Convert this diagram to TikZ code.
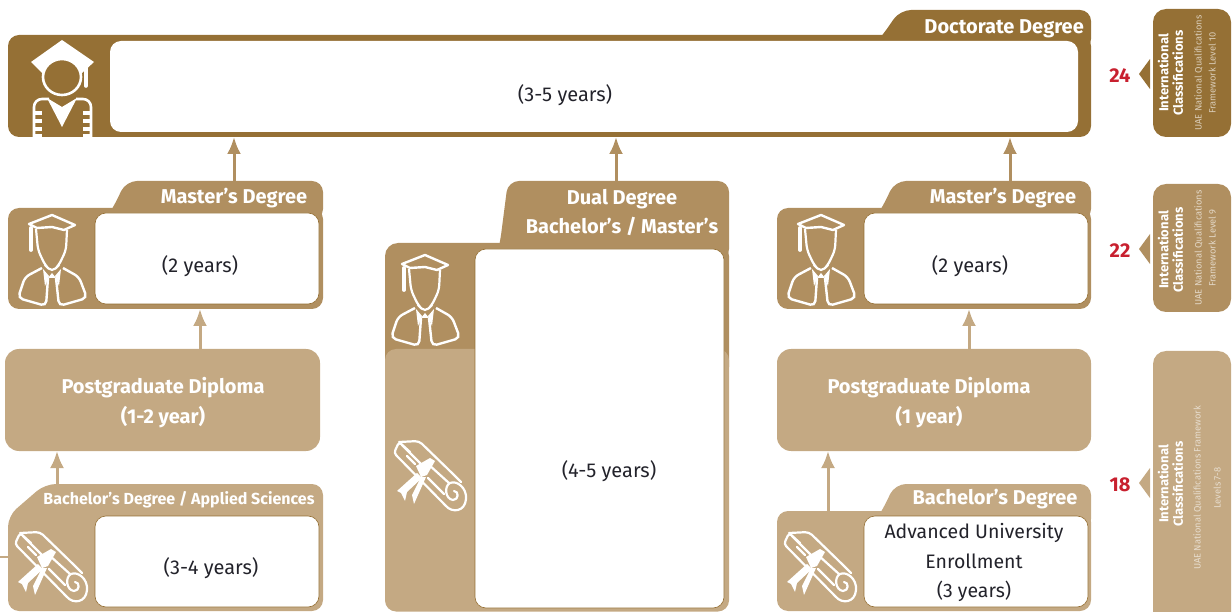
\documentclass[tikz,border=0pt]{standalone}
\usepackage{xcolor}
\usepackage{fontspec}
\setmainfont{Fira Sans}
\usetikzlibrary{arrows.meta}

\definecolor{phdbrown}{HTML}{957035}
\definecolor{masterbrown}{HTML}{B08F60}
\definecolor{bachelortan}{HTML}{C4A983}
\definecolor{creditred}{HTML}{C8202F}
\definecolor{bodytext}{HTML}{23232B}

\newcommand{\fsize}[2]{\fontsize{#1}{#2}\selectfont}

% icons, given in pixels from their own top left corner
\newcommand{\doctoricon}[1]{%
    \begin{scope}[shift={(#1)}]
        \fill [white] (37,4) -- (69,26) -- (56,38) -- (37,24) -- (18,38) -- (6,26) -- cycle;
        \draw [white,line width=2.6pt,fill=phdbrown] (37,41) ellipse [x radius=19,y radius=18];
        \draw [white,line width=3.6pt,line cap=round] (61,30) -- (61,50);
        \draw [white,line width=2.6pt,rounded corners=8pt] (9,101) -- (9,63) -- (24,63);
        \draw [white,line width=2.6pt,rounded corners=8pt] (51,63) -- (66,63) -- (66,101);
        \fill [white] (22,62) -- (37,91) -- (52,62) -- (37,71) -- cycle;
        \foreach \stripe in {77,85,93,99.4} {
            \fill [white] (9,\stripe-1.6) rectangle (17,\stripe+1.6);
            \fill [white] (58,\stripe-1.6) rectangle (66,\stripe+1.6);
        }
    \end{scope}}
\newcommand{\mastericon}[1]{%
    \begin{scope}[shift={(#1)}]
        \draw [white,line width=2.4pt,line join=round] (17,14) -- (40,5) -- (63,15) -- (52,20) -- (40,17) -- (25,18) -- cycle;
        \draw [white,line width=3.8pt,line cap=round] (19,18) -- (19,40);
        \draw [white,line width=2.2pt,rounded corners=5pt] (24,19) -- (26,40) -- (33,55) -- (40,62) -- (47,55) -- (54,40) -- (55,20);
        \draw [white,line width=2.4pt,rounded corners=5pt] (30,58) -- (13,67) -- (6,88) -- (34,96) -- (36,68);
        \draw [white,line width=2.4pt,rounded corners=5pt] (51,58) -- (67,67) -- (75,88) -- (47,96) -- (44,68);
        \fill [white] (31,59) -- (37,66) -- (33,76) -- cycle;
        \fill [white] (49,59) -- (43,66) -- (47,76) -- cycle;
        \fill [white] (40,63) -- (44,68) -- (36,68) -- cycle;
    \end{scope}}
\newcommand{\scrollicon}[1]{%
    \begin{scope}[shift={(#1)}]
        \begin{scope}[white,line width=2.2pt,line join=round,line cap=round]
            \draw [rounded corners=3pt] (21,21) -- (10,11) -- (5,22) -- (57,75);
            \draw [rounded corners=4pt] (10,11) -- (30,10) -- (63,42) -- (72,51);
            \draw (57,75) .. controls (63,82) and (76,81) .. (77,68)
                .. controls (78,57) and (68,49) .. (61,52)
                .. controls (55,55) and (56,68) .. (64,69)
                .. controls (70,69) and (70,60) .. (65,60);
            \draw (13,14) -- (32,33);
            \draw (39,33) -- (60,52);
            \draw (18,25) -- (26,33);
            \draw (39,47) -- (55,63);
        \end{scope}
        \fill [white] (27,35) -- (41,27) -- (46,30) -- (38,44) -- (32,46) -- cycle;
        \fill [white] (28,42) -- (33,47) -- (18,61) -- (16,70) -- (12,62) -- (8,60) -- cycle;
        \fill [white] (32,46) -- (37,46) -- (25,73) -- (23,64) -- cycle;
    \end{scope}}

\tikzset{
    panel/.style={rectangle,rounded corners=11pt,inner sep=0pt,outer sep=0pt},
    whitebox/.style={panel,fill=white,draw=phdbrown,line width=.6pt},
    years/.style={text=bodytext,inner sep=0pt,align=center,font=\fsize{20}{29.5}},
    degreetitle/.style={text=white,inner sep=0pt,font=\fsize{20}{29}\bfseries,align=center},
    uparrow/.style={-{Latex[length=17pt,width=14pt]},line width=3pt},
    sidebox/.style={panel,rounded corners=13pt,minimum width=78pt},
    sidehead/.style={rotate=90,text=white,inner sep=0pt,align=center,font=\fsize{13}{14.5}\bfseries},
    sidetext/.style={rotate=90,inner sep=0pt,align=center,font=\fsize{9.3}{14}},
    credits/.style={text=creditred,inner sep=0pt,font=\fsize{20}{20}\bfseries},
}

\begin{document}
\begin{tikzpicture}[x=1pt,y=-1pt]
    \useasboundingbox (0,0) rectangle (1232,612);
    \clip (0,0) rectangle (1232,612);

    % doctorate
    \fill [phdbrown,rounded corners=11pt] (870,50) -- (882,36) -- (900,10) -- (1091,10) -- (1091,50) -- cycle;
    \node [panel,fill=phdbrown,minimum width=1083pt,minimum height=102pt] (phd) at (549.5,86) {};
    \node [whitebox,draw=none,minimum width=968pt,minimum height=91pt] (phdbox) at (594,86.5) {};
    \node [years] (phdyears) at (565,95.5) {(3-5 years)};
    \node [degreetitle,anchor=east] (phdtitle) at (1084,28.5) {Doctorate Degree};
    \doctoricon{25,36}

    % masters, left and right
    \fill [masterbrown,rounded corners=11pt] (105,220) -- (113,208) -- (126,181) -- (323,181) -- (323,220) -- cycle;
    \node [panel,fill=masterbrown,minimum width=315pt,minimum height=101pt] (masterL) at (165.5,258.5) {};
    \node [whitebox,minimum width=224pt,minimum height=91pt] (masterLbox) at (207,258.5) {};
    \node [years] (masterLyears) at (200,266) {(2 years)};
    \node [degreetitle] (masterLtitle) at (234,198.5) {Master's Degree};
    \mastericon{12,210}

    \fill [masterbrown,rounded corners=11pt] (874,220) -- (882,208) -- (895,181) -- (1091,181) -- (1091,220) -- cycle;
    \node [panel,fill=masterbrown,minimum width=314pt,minimum height=101pt] (masterR) at (934,258.5) {};
    \node [whitebox,minimum width=224pt,minimum height=91pt] (masterRbox) at (976,258.5) {};
    \node [years] (masterRyears) at (970,266) {(2 years)};
    \node [degreetitle] (masterRtitle) at (1003,198.5) {Master's Degree};
    \mastericon{781,210}

    % dual degree
    \fill [masterbrown,rounded corners=11pt] (496,260) -- (500,243) -- (508,181) -- (729,181) -- (729,260) -- cycle;
    \fill [masterbrown,rounded corners=13pt] (385,380) -- (385,243) -- (510,243) -- (729,243) -- (729,380) -- cycle;
    \fill [bachelortan,rounded corners=11pt] (385,611.5) -- (385,349) -- (729,349) -- (729,611.5) -- cycle;
    \node [whitebox,minimum width=249pt,minimum height=359pt] (dualbox) at (599.5,428.5) {};
    \node [years] (dualyears) at (609,471.5) {(4-5 years)};
    \node [degreetitle] (dualtitle) at (622,213) {Dual Degree\\Bachelor's / Master's};
    \mastericon{385,250}
    \scrollicon{389,431}

    % postgraduate diplomas
    \node [panel,fill=bachelortan,rounded corners=14pt,minimum width=315pt,minimum height=102pt] (pgL) at (162.5,400) {};
    \node [degreetitle,font=\fsize{20}{30}\bfseries] (pgLtitle) at (163,402.5) {Postgraduate Diploma\\(1-2 year)};
    \node [panel,fill=bachelortan,rounded corners=14pt,minimum width=314pt,minimum height=102pt] (pgR) at (934,400) {};
    \node [degreetitle,font=\fsize{20}{30}\bfseries] (pgRtitle) at (929,402.5) {Postgraduate Diploma\\(1 year)};

    % bachelors, left and right
    \draw [bachelortan,line width=1.5pt] (0,557) coordinate (bachLin) -- (8,557);
    \fill [bachelortan,rounded corners=11pt] (8,611) -- (8,516) -- (45,484) -- (323,484) -- (323,611) -- cycle;
    \node [whitebox,minimum width=224pt,minimum height=91pt] (bachLbox) at (207,561.5) {};
    \node [years] (bachLyears) at (211,568) {(3-4 years)};
    \node [degreetitle,font=\fsize{16}{20}\bfseries] (bachLtitle) at (179,499.5) {Bachelor's Degree / Applied Sciences};
    \scrollicon{10,522}

    \fill [bachelortan,rounded corners=11pt] (874,523) -- (882,511) -- (895,484) -- (1091,484) -- (1091,530) -- cycle;
    \node [panel,fill=bachelortan,minimum width=314pt,minimum height=100pt] (bachR) at (934,561) {};
    \node [whitebox,minimum width=224pt,minimum height=91pt] (bachRbox) at (976,561.5) {};
    \node [years,font=\fsize{19.5}{29.5}] (bachRyears) at (974,562.5) {Advanced University\\Enrollment\\(3 years)};
    \node [degreetitle] (bachRtitle) at (995,499) {Bachelor's Degree};
    \scrollicon{779,522}

    % arrows going up the ladder
    \coordinate (masterLout) at (234,181);
    \coordinate (dualout) at (616,181);
    \coordinate (masterRout) at (1010,181);
    \coordinate (pgLout) at (200,349);
    \coordinate (pgRout) at (969,349);
    \coordinate (bachLout) at (57,484);
    \coordinate (bachRout) at (828,511);
    \draw [uparrow,masterbrown] (masterLout) -- (masterLout |- phd.south);
    \draw [uparrow,masterbrown] (dualout) -- (dualout |- phd.south);
    \draw [uparrow,masterbrown] (masterRout) -- (masterRout |- phd.south);
    \draw [uparrow,bachelortan] (pgLout) -- (pgLout |- masterL.south);
    \draw [uparrow,bachelortan] (pgRout) -- (pgRout |- masterR.south);
    \draw [uparrow,bachelortan] (bachLout) -- (bachLout |- pgL.south);
    \draw [uparrow,bachelortan] (bachRout) -- (bachRout |- pgR.south);

    % classifications down the right side
    \node [sidebox,fill=phdbrown,minimum height=128pt] (side24) at (1192,73) {};
    \node [sidebox,fill=masterbrown,minimum height=128pt] (side22) at (1192,248) {};
    \node [sidebox,fill=bachelortan,minimum height=274pt] (side18) at (1192,488) {};
    \fill [phdbrown] (1139,74) -- (1150,59) -- (1150,89) -- cycle;
    \fill [masterbrown] (1139,249) -- (1150,234) -- (1150,264) -- cycle;
    \fill [bachelortan] (1139,483) -- (1150,468) -- (1150,498) -- cycle;
    \node [credits] (credits24) at (1120,75.5) {24};
    \node [credits] (credits22) at (1120,250.5) {22};
    \node [credits] (credits18) at (1120,484.5) {18};
    \node [sidehead] (head24) at (1170.5,73) {International\\Classifications};
    \node [sidehead] (head22) at (1170.5,250) {International\\Classifications};
    \node [sidehead] (head18) at (1170.5,484) {International\\Classifications};
    \node [sidetext,text=white!65!phdbrown] (text24) at (1205,73) {UAE National Qualifications\\Framework Level 10};
    \node [sidetext,text=white!65!masterbrown] (text22) at (1205,248) {UAE National Qualifications\\Framework Level 9};
    \node [sidetext,text=white!60!bachelortan,font=\fsize{9.3}{20}] (text18) at (1207,488) {UAE National Qualifications Framework\\Levels 7-8};
\end{tikzpicture}
\end{document}
